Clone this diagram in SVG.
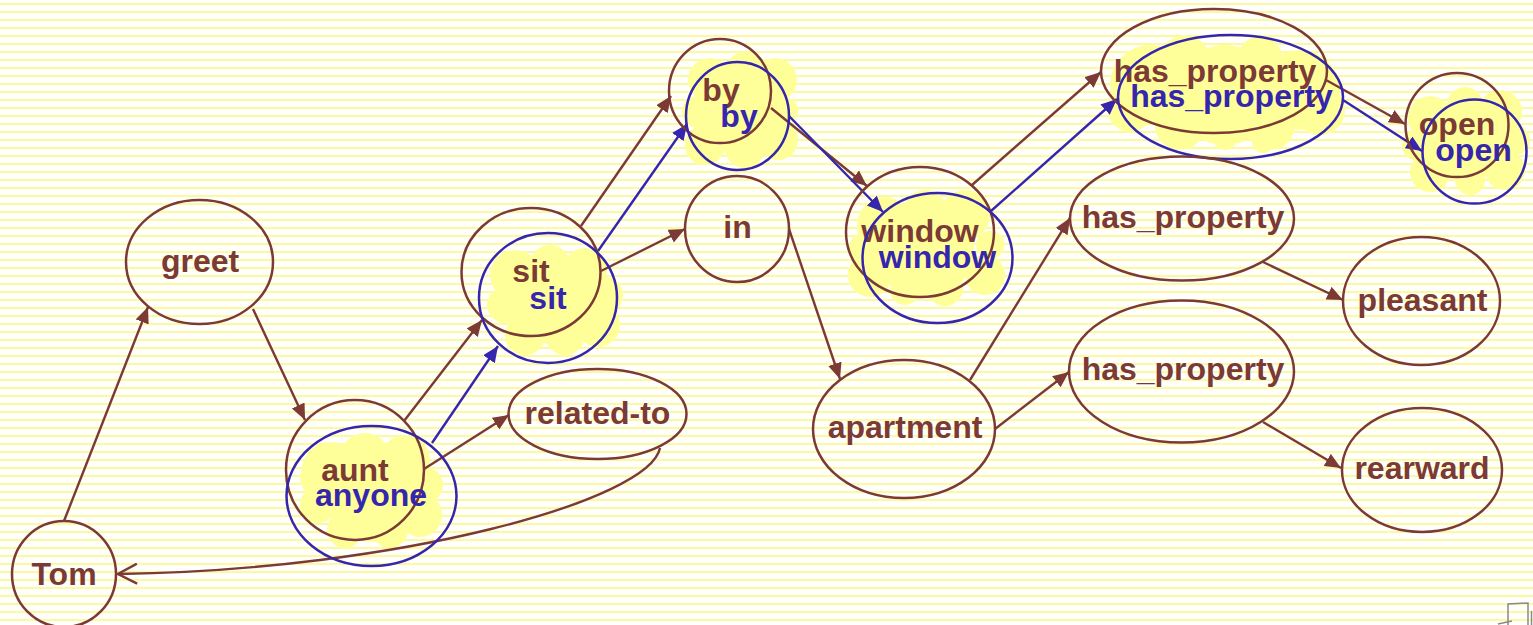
<svg xmlns="http://www.w3.org/2000/svg" width="1533" height="625" viewBox="0 0 1533 625">
<defs>
<pattern id="stripes" x="0" y="0" width="16" height="8" patternUnits="userSpaceOnUse">
<rect x="0" y="3" width="16" height="2" fill="#fffa99"/>
</pattern>
<marker id="ahB" markerWidth="17" markerHeight="15" refX="16" refY="7" orient="auto" markerUnits="userSpaceOnUse">
<path d="M0,0 L16,7 L0,14 z" fill="#7b3a35"/>
</marker>
<marker id="ahU" markerWidth="17" markerHeight="15" refX="16" refY="7" orient="auto" markerUnits="userSpaceOnUse">
<path d="M0,0 L16,7 L0,14 z" fill="#3526ad"/>
</marker>
<marker id="ahO" markerWidth="24" markerHeight="22" refX="21" refY="11" orient="auto" markerUnits="userSpaceOnUse">
<path d="M2,1 L21,11 L2,21" fill="none" stroke="#7b3a35" stroke-width="2.5"/>
</marker>
</defs>
<style>
.nb{fill:none;stroke:#7b3a35;stroke-width:2.5}
.nu{fill:none;stroke:#3526ad;stroke-width:2.5}
.tb{font-family:"Liberation Sans",Arial,sans-serif;font-weight:bold;font-size:32px;fill:#7b3a35;text-anchor:middle}
.tu{font-family:"Liberation Sans",Arial,sans-serif;font-weight:bold;font-size:32px;fill:#3526ad;text-anchor:middle}
.blob circle{fill:#ffff99}
.eb{fill:none;stroke:#7b3a35;stroke-width:2.4;marker-end:url(#ahB)}
.eu{fill:none;stroke:#3526ad;stroke-width:2.4;marker-end:url(#ahU)}
</style>
<rect width="1533" height="625" fill="#ffffff"/>
<rect width="1533" height="625" fill="url(#stripes)"/>

<g id="highlights">
<g class="blob" id="blob-aunt">
<circle cx="372" cy="492" r="50"/><circle cx="330" cy="470" r="28"/><circle cx="365" cy="458" r="25"/><circle cx="405" cy="460" r="25"/><circle cx="425" cy="485" r="18"/><circle cx="420" cy="515" r="22"/><circle cx="390" cy="530" r="18"/><circle cx="345" cy="530" r="18"/><circle cx="318" cy="505" r="18"/><circle cx="318" cy="478" r="18"/>
</g>
<g class="blob" id="blob-sit">
<circle cx="556" cy="300" r="45"/><circle cx="515" cy="275" r="25"/><circle cx="550" cy="265" r="20"/><circle cx="585" cy="270" r="22"/><circle cx="605" cy="295" r="18"/><circle cx="598" cy="325" r="22"/><circle cx="565" cy="335" r="20"/><circle cx="525" cy="335" r="20"/><circle cx="505" cy="305" r="18"/>
</g>
<g class="blob" id="blob-by">
<circle cx="741" cy="110" r="45"/><circle cx="710" cy="80" r="22"/><circle cx="745" cy="72" r="20"/><circle cx="775" cy="80" r="22"/><circle cx="786" cy="110" r="12"/><circle cx="778" cy="140" r="20"/><circle cx="745" cy="148" r="20"/><circle cx="705" cy="145" r="20"/><circle cx="698" cy="112" r="16"/>
</g>
<g class="blob" id="blob-window">
<circle cx="926" cy="250" r="48"/><circle cx="885" cy="225" r="28"/><circle cx="925" cy="212" r="22"/><circle cx="965" cy="215" r="25"/><circle cx="990" cy="245" r="14"/><circle cx="985" cy="275" r="20"/><circle cx="945" cy="288" r="18"/><circle cx="905" cy="290" r="15"/><circle cx="870" cy="275" r="22"/><circle cx="865" cy="248" r="16"/>
</g>
<g class="blob" id="blob-hasprop">
<circle cx="1225" cy="95" r="50"/><circle cx="1150" cy="85" r="40"/><circle cx="1300" cy="90" r="40"/><circle cx="1185" cy="60" r="25"/><circle cx="1260" cy="58" r="22"/><circle cx="1320" cy="110" r="25"/><circle cx="1270" cy="125" r="25"/><circle cx="1180" cy="125" r="25"/><circle cx="1130" cy="110" r="22"/><circle cx="1225" cy="138" r="12"/><circle cx="1263" cy="142" r="11"/>
</g>
<g class="blob" id="blob-open">
<circle cx="1466" cy="140" r="42"/><circle cx="1430" cy="118" r="22"/><circle cx="1465" cy="105" r="18"/><circle cx="1500" cy="112" r="22"/><circle cx="1515" cy="140" r="15"/><circle cx="1505" cy="170" r="20"/><circle cx="1470" cy="180" r="15"/><circle cx="1430" cy="172" r="20"/><circle cx="1418" cy="145" r="16"/>
</g>
</g>

<g id="connectors">
<path class="eb" d="M64,521 L148,307"/>
<path class="eb" d="M253,309 L305,420"/>
<path class="eb" d="M404,421 L482,320"/>
<path class="eu" d="M432,443 L498,346"/>
<path class="eb" d="M424,469 L509,415"/>
<path d="M660,448 C650,500 400,570 118,574" fill="none" stroke="#7b3a35" stroke-width="2.4" marker-end="url(#ahO)"/>
<path class="eb" d="M581,226 L671,96"/>
<path class="eu" d="M598,251 L687,124"/>
<path class="eb" d="M601,271 L685,229"/>
<path class="eb" d="M771,108 L867,186"/>
<path class="eu" d="M789,116 L883,212"/>
<path class="eb" d="M789,229 L840,379"/>
<path class="eb" d="M972,185 L1101,72"/>
<path class="eu" d="M991,211 L1117,99"/>
<path class="eb" d="M1326,80 L1405,124"/>
<path class="eu" d="M1343,100 L1422,151"/>
<path class="eb" d="M970,380 L1070,218"/>
<path class="eb" d="M995,429 L1069,372"/>
<path class="eb" d="M1263,262 L1343,300"/>
<path class="eb" d="M1263,422 L1341,468"/>
</g>

<g id="node-tom"><ellipse class="nb" cx="64" cy="574" rx="52" ry="53"/><text class="tb" x="64" y="585">Tom</text></g>
<g id="node-greet"><ellipse class="nb" cx="199.5" cy="262" rx="73.5" ry="62"/><text class="tb" x="200" y="272">greet</text></g>
<g id="node-aunt"><ellipse class="nb" cx="355" cy="470" rx="69" ry="70"/><text class="tb" x="355" y="481">aunt</text></g>
<g id="node-anyone"><ellipse class="nu" cx="371.5" cy="496" rx="85" ry="70"/><text class="tu" x="371" y="506">anyone</text></g>
<g id="node-sit"><ellipse class="nb" cx="531" cy="272" rx="69.5" ry="64"/><text class="tb" x="531" y="282">sit</text></g>
<g id="node-sit2"><ellipse class="nu" cx="548" cy="298" rx="69" ry="65"/><text class="tu" x="548" y="309">sit</text></g>
<g id="node-related-to"><ellipse class="nb" cx="597.5" cy="414" rx="89" ry="45"/><text class="tb" x="597.5" y="424">related-to</text></g>
<g id="node-by"><ellipse class="nb" cx="720" cy="91" rx="51" ry="52"/><text class="tb" x="721" y="101">by</text></g>
<g id="node-by2"><ellipse class="nu" cx="737.5" cy="116" rx="51.5" ry="54"/><text class="tu" x="739" y="127">by</text></g>
<g id="node-in"><ellipse class="nb" cx="737" cy="229" rx="52" ry="53"/><text class="tb" x="737.5" y="238">in</text></g>
<g id="node-window"><ellipse class="nb" cx="920" cy="232" rx="74" ry="65"/><text class="tb" x="920" y="242">window</text></g>
<g id="node-window2"><ellipse class="nu" cx="937.5" cy="258" rx="75" ry="65"/><text class="tu" x="937.5" y="268">window</text></g>
<g id="node-apartment"><ellipse class="nb" cx="904" cy="429" rx="91" ry="69"/><text class="tb" x="905" y="438">apartment</text></g>
<g id="node-hasprop1"><ellipse class="nb" cx="1214" cy="71" rx="113" ry="62"/><text class="tb" x="1215" y="82">has_property</text></g>
<g id="node-hasprop1b"><ellipse class="nu" cx="1230.5" cy="97" rx="112.5" ry="62"/><text class="tu" x="1231.5" y="107">has_property</text></g>
<g id="node-hasprop2"><ellipse class="nb" cx="1182" cy="218.5" rx="112" ry="62"/><text class="tb" x="1183" y="228">has_property</text></g>
<g id="node-hasprop3"><ellipse class="nb" cx="1181.5" cy="371.5" rx="112.5" ry="71"/><text class="tb" x="1183" y="380">has_property</text></g>
<g id="node-open"><ellipse class="nb" cx="1457" cy="125" rx="51.5" ry="52"/><text class="tb" x="1457" y="135">open</text></g>
<g id="node-open2"><ellipse class="nu" cx="1474.5" cy="151.5" rx="52" ry="52"/><text class="tu" x="1473.5" y="161">open</text></g>
<g id="node-pleasant"><ellipse class="nb" cx="1421.5" cy="301" rx="78.5" ry="64"/><text class="tb" x="1422.5" y="311">pleasant</text></g>
<g id="node-rearward"><ellipse class="nb" cx="1422" cy="470" rx="80" ry="62"/><text class="tb" x="1422" y="479">rearward</text></g>

<path d="M1498,624 L1512,621 M1508,625 L1508,604 L1528,603 L1528,625 M1531.5,611 L1531.5,625" fill="none" stroke="#8a8a8a" stroke-width="1.5"/>
</svg>
